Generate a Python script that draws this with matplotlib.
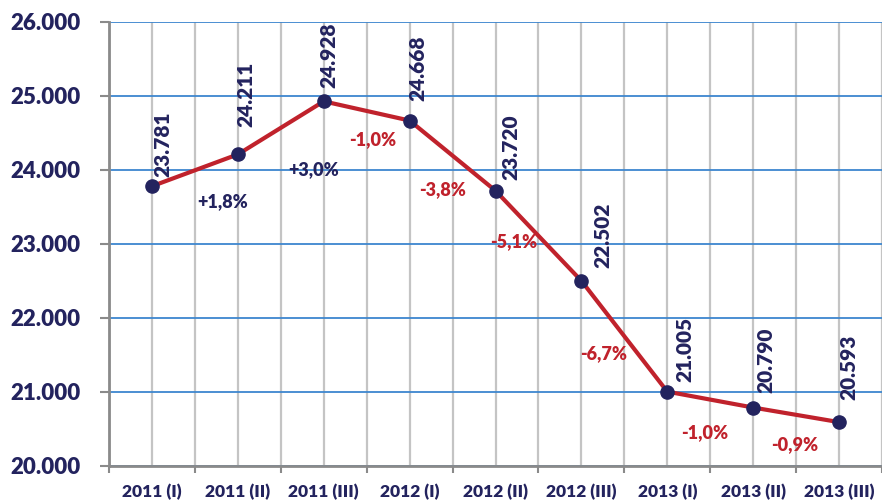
import numpy as np
import matplotlib
matplotlib.use('Agg')
import matplotlib.pyplot as plt

NAVY = '#23235e'
RED = '#c0222c'
GRID_BLUE = '#3d86cf'
GRID_GRAY = '#c4c4c4'
AXIS_GRAY = '#8a8a8a'

categories = ['2011 (I)', '2011 (II)', '2011 (III)', '2012 (I)', '2012 (II)',
              '2012 (III)', '2013 (I)', '2013 (II)', '2013 (III)']
values = [23781, 24211, 24928, 24668, 23720, 22502, 21005, 20790, 20593]
changes = ['+1,8%', '+3,0%', '-1,0%', '-3,8%', '-5,1%', '-6,7%', '-1,0%', '-0,9%']
y_ticks = [20000, 21000, 22000, 23000, 24000, 25000, 26000]

# label offsets in pixels (value labels: from point; change labels: from segment middle)
value_offsets = [(1, 9), (-1, 27), (-4, 13), (-1, 20), (6, 11), (12, 13), (8, 10), (3, 15), (0, 22)]
change_offsets = [(28, -31), (33, -42), (6, -29), (-10, -34), (-25, -6), (-21, -17), (-6, -33), (-1, -30)]

plt.rcParams['font.family'] = ['Lato', 'DejaVu Sans']
WEIGHT = 'heavy'

fig = plt.figure(figsize=(8.82, 5.0), dpi=100)
ax = fig.add_axes([109 / 882, 34 / 500, 1 - 109 / 882, 444 / 500])

x = np.arange(len(categories))
ax.plot(x, values, color=RED, linewidth=3, zorder=3, solid_capstyle='round')
ax.plot(x, values, linestyle='none', marker='o', markersize=9.5,
        color=NAVY, zorder=4)

for i, v in enumerate(values):
    dx, dy = value_offsets[i]
    label = f'{v:,}'.replace(',', '.')
    ax.annotate(label, (x[i], v), xytext=(dx, dy), textcoords='offset pixels',
                rotation=90, ha='left', va='bottom', color=NAVY,
                fontsize=15, fontweight=WEIGHT, zorder=5)

for i, txt in enumerate(changes):
    mx = (x[i] + x[i + 1]) / 2
    my = (values[i] + values[i + 1]) / 2
    dx, dy = change_offsets[i]
    color = NAVY if txt.startswith('+') else RED
    ax.annotate(txt, (mx, my), xytext=(dx, dy), textcoords='offset pixels',
                ha='center', va='center', color=color, fontsize=13,
                fontweight=WEIGHT, zorder=5)

ax.set_xlim(-0.5, 8.45)
ax.set_ylim(20000, 26000)

ax.set_xticks(x)
ax.set_xticklabels(categories, fontweight=WEIGHT)
ax.set_xticks(np.arange(len(categories) + 1) - 0.5, minor=True)
ax.tick_params(axis='x', which='major', length=0, pad=13, labelsize=12.5,
               labelcolor=NAVY)
ax.tick_params(axis='x', which='minor', length=5, width=1.5, color=AXIS_GRAY,
               direction='out')

ax.set_yticks(y_ticks)
ax.set_yticklabels([f'{t:,}'.replace(',', '.') for t in y_ticks], fontweight=WEIGHT)
ax.tick_params(axis='y', length=6.5, width=1.5, color=AXIS_GRAY, pad=14,
               labelsize=16, labelcolor=NAVY)

ax.xaxis.grid(True, which='both', color=GRID_GRAY, linewidth=1.6)
ax.yaxis.grid(True, which='major', color=GRID_BLUE, linewidth=1.3)
ax.set_axisbelow(True)

for side in ('top', 'right'):
    ax.spines[side].set_visible(False)
for side in ('left', 'bottom'):
    ax.spines[side].set_color(AXIS_GRAY)
    ax.spines[side].set_linewidth(2)
    ax.spines[side].set_zorder(2.5)

fig.savefig('out.png', dpi=100)
